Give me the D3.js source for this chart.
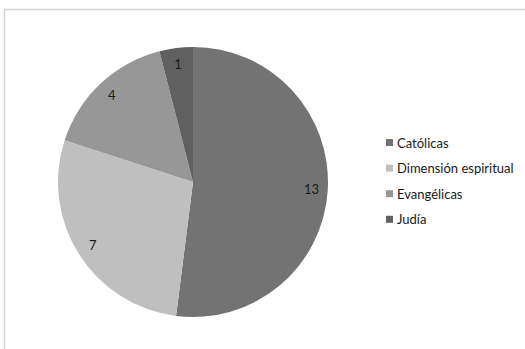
<!DOCTYPE html>
<html>
<head>
<meta charset="utf-8">
<script src="https://cdn.jsdelivr.net/npm/d3@7"></script>
<style>
  body { margin: 0; background: #fff; }
  text { font-family: Lato, "Open Sans", sans-serif; fill: #1a1a1a; }
</style>
</head>
<body>
<div id="chart"></div>
<script>
var categories = ["Católicas", "Dimensión espiritual", "Evangélicas", "Judía"]
var values = [13, 7, 4, 1]
var colors = ["#737373", "#bfbfbf", "#979797", "#606060"]

var width = 525, height = 349
var cx = 193, cy = 182, radius = 135

var svg = d3.select("#chart").append("svg")
    .attr("width", width)
    .attr("height", height)

// chart area border (cut off on right and bottom)
svg.append("rect")
    .attr("x", 4.5).attr("y", 9.5)
    .attr("width", 540).attr("height", 360)
    .attr("fill", "none")
    .attr("stroke", "#d4d4d4")
    .attr("stroke-width", 1.5)

var data = categories.map((c, i) => ({ name: c, value: values[i], color: colors[i] }))

var pie = d3.pie().sort(null).value(d => d.value)
var arc = d3.arc().innerRadius(0).outerRadius(radius)
var labelArc = d3.arc().innerRadius(radius * 0.88).outerRadius(radius * 0.88)

var g = svg.append("g").attr("transform", "translate(" + cx + "," + cy + ")")
var arcs = pie(data)

g.selectAll("path.slice")
    .data(arcs)
    .enter().append("path")
    .attr("class", "slice")
    .attr("d", arc)
    .attr("fill", d => d.data.color)

g.selectAll("text.lbl")
    .data(arcs)
    .enter().append("text")
    .attr("class", "lbl")
    .attr("transform", d => "translate(" + labelArc.centroid(d) + ")")
    .attr("text-anchor", "middle")
    .attr("dy", "0.35em")
    .style("font-size", "13px")
    .text(d => d.data.value)

// legend
var legend = svg.append("g").attr("transform", "translate(386,143)")
var item = legend.selectAll("g")
    .data(data)
    .enter().append("g")
    .attr("transform", (d, i) => "translate(0," + (i * 25.6) + ")")

item.append("rect")
    .attr("x", 0).attr("y", -4)
    .attr("width", 7).attr("height", 7)
    .attr("fill", d => d.color)

item.append("text")
    .attr("x", 11)
    .attr("dy", "0.35em")
    .style("font-size", "13px")
    .text(d => d.name)
</script>
</body>
</html>
